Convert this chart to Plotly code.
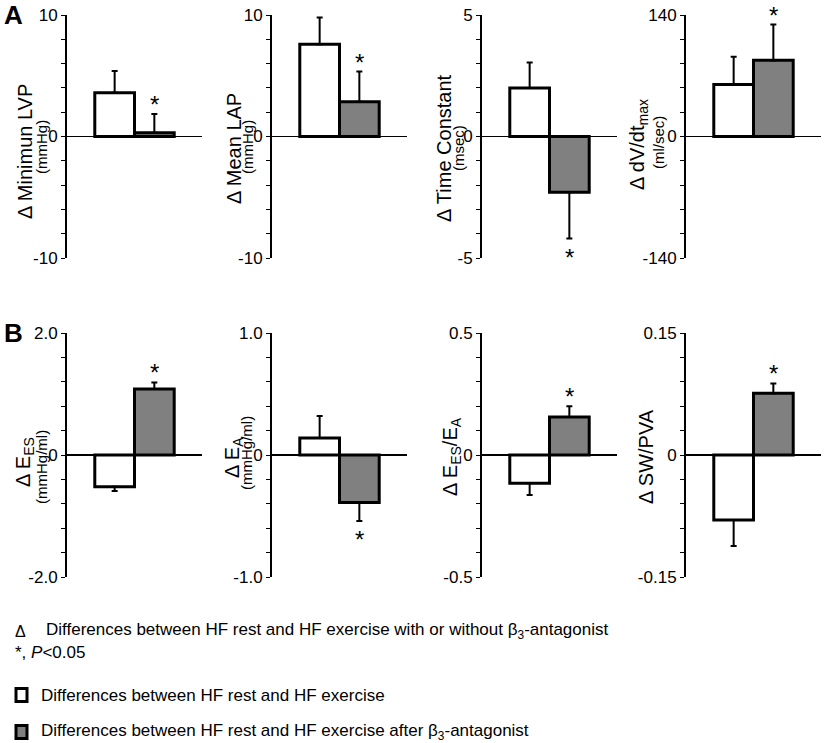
import plotly.graph_objects as go

# ---------------- data ----------------
panel_keys = ["A1", "A2", "A3", "A4", "B1", "B2", "B3", "B4"]
title_main = ["Δ Minimun LVP", "Δ Mean LAP", "Δ Time Constant", "Δ dV/dt<sub>max</sub>",
              "Δ E<sub>ES</sub>", "Δ E<sub>A</sub>", "Δ E<sub>ES</sub>/E<sub>A</sub>", "Δ SW/PVA"]
title_unit = ["(mmHg)", "(mmHg)", "(msec)", "(ml/sec)", "(mmHg/ml)", "(mmHg/ml)", "", ""]
axis_limit = [10, 10, 5, 140, 2.0, 1.0, 0.5, 0.15]
minor_step = [2, 2, 1, 28, 0.4, 0.2, 0.1, 0.03]
tick_top = ["10", "10", "5", "140", "2.0", "1.0", "0.5", "0.15"]
tick_bottom = ["-10", "-10", "-5", "-140", "-2.0", "-1.0", "-0.5", "-0.15"]

rest_values = [3.6, 7.6, 2.0, 60, -0.52, 0.14, -0.116, -0.080]
rest_errors = [1.8, 2.2, 1.05, 32, 0.07, 0.18, 0.048, 0.032]
beta_values = [0.3, 2.85, -2.29, 88, 1.08, -0.39, 0.156, 0.076]
beta_errors = [1.55, 2.5, 1.91, 41, 0.11, 0.15, 0.044, 0.012]
beta_significant = [True, True, True, True, True, True, True, True]

series_names = ["Differences between HF rest and HF exercise",
                "Differences between HF rest and HF exercise after β<sub>3</sub>-antagonist"]
series_colors = ["#ffffff", "#808080"]
bar_positions = [0, 1]

# ---------------- layout geometry (window pixels) ----------------
W, H = 825, 743
FONT = "Liberation Sans, Arial, sans-serif"
col_px = [67, 272, 482, 686]
col_w = 135
row_px = [(15, 258), (333, 577)]
title_dx1 = [-42, -38, -38, -48, -43, -39, -31, -40]
title_dx2 = [-26, -25, -24, -28, -26, -26, 0, 0]
title_cy1 = [152, 149, 148, 145, 462, 458, 457, 457]
title_cy2 = [147, 147, 148, 143, 467, 453, 0, 0]


def px(x):
    return x / W


def py(y):
    return 1 - y / H


fig = go.Figure()
layout = dict(template="none", width=W, height=H, margin=dict(l=0, r=0, t=0, b=0, pad=0),
              paper_bgcolor="white", plot_bgcolor="white",
              showlegend=False, barmode="overlay",
              font=dict(family=FONT, color="black"))
annotations = []
shapes = []

for i, key in enumerate(panel_keys):
    r, c = divmod(i, 4)
    sfx = "" if i == 0 else str(i + 1)
    xref, yref = "x" + sfx, "y" + sfx
    x0 = col_px[c]
    y0, y1 = row_px[r]
    lim = axis_limit[i]

    layout["xaxis" + sfx] = dict(domain=[px(x0), px(x0 + col_w)], range=[-1.2, 2.2],
                                 visible=False, anchor=yref, fixedrange=True, automargin=False)
    layout["yaxis" + sfx] = dict(domain=[py(y1), py(y0)], range=[-lim, lim], anchor=xref,
                                 automargin=False, ticklabeloverflow="allow",
                                 showline=True, linecolor="black", linewidth=2,
                                 showgrid=False, zeroline=True, zerolinecolor="black",
                                 zerolinewidth=1.5, tickmode="array", tickvals=[-lim, 0, lim],
                                 ticktext=[tick_bottom[i], "0", tick_top[i]],
                                 ticks="outside", ticklen=4, tickwidth=1,
                                 tickcolor="black", tickfont=dict(size=17, family=FONT, color="black"),
                                 minor=dict(tickmode="linear", tick0=0, dtick=minor_step[i],
                                            ticks="outside", ticklen=4, tickwidth=1,
                                            tickcolor="black", showgrid=False),
                                 fixedrange=True)

    for s, (vals, errs) in enumerate([(rest_values, rest_errors), (beta_values, beta_errors)]):
        v, e = vals[i], errs[i]
        plus = e if v >= 0 else 0
        minus = 0 if v >= 0 else e
        fig.add_trace(go.Bar(x=[bar_positions[s]], y=[v], width=1, xaxis=xref, yaxis=yref,
                             name=series_names[s],
                             marker=dict(color=series_colors[s], line=dict(color="black", width=3)),
                             error_y=dict(type="data", symmetric=False, array=[plus], arrayminus=[minus],
                                          color="black", thickness=2, width=3),
                             showlegend=False))
    if beta_significant[i]:
        v, e = beta_values[i], beta_errors[i]
        up = v >= 0
        end = v + e if up else v - e
        annotations.append(dict(xref=xref, yref=yref, x=bar_positions[1], y=end, text="*",
                                showarrow=False, xanchor="center",
                                yanchor="bottom" if up else "top",
                                yshift=-6 if up else -3,
                                font=dict(size=24, family=FONT, color="black")))

    annotations.append(dict(xref="paper", yref="paper", x=px(x0 + title_dx1[i]), y=py(title_cy1[i]),
                            text=title_main[i], textangle=-90, showarrow=False,
                            xanchor="center", yanchor="middle",
                            font=dict(size=20, family=FONT, color="black")))
    if title_unit[i]:
        annotations.append(dict(xref="paper", yref="paper", x=px(x0 + title_dx2[i]), y=py(title_cy2[i]),
                                text=title_unit[i], textangle=-90, showarrow=False,
                                xanchor="center", yanchor="middle",
                                font=dict(size=15, family=FONT, color="black")))

# panel letters
annotations.append(dict(xref="paper", yref="paper", x=px(2), y=py(15), text="<b>A</b>",
                        showarrow=False, xanchor="left", yanchor="middle",
                        font=dict(size=26, family=FONT, color="black")))
annotations.append(dict(xref="paper", yref="paper", x=px(2), y=py(333), text="<b>B</b>",
                        showarrow=False, xanchor="left", yanchor="middle",
                        font=dict(size=26, family=FONT, color="black")))

# notes and legend
annotations.append(dict(xref="paper", yref="paper", x=px(13), y=py(631), text="Δ",
                        showarrow=False, xanchor="left", yanchor="middle",
                        font=dict(size=16, family=FONT, color="black")))
annotations.append(dict(xref="paper", yref="paper", x=px(44), y=py(631),
                        text="Differences between HF rest and HF exercise with or without β<sub>3</sub>-antagonist",
                        showarrow=False, xanchor="left", yanchor="middle",
                        font=dict(size=17, family=FONT, color="black")))
annotations.append(dict(xref="paper", yref="paper", x=px(13), y=py(652),
                        text="*, <i>P</i>&lt;0.05", showarrow=False, xanchor="left", yanchor="middle",
                        font=dict(size=17, family=FONT, color="black")))

legend_y = [695, 732]
for s in range(2):
    cy = legend_y[s]
    shapes.append(dict(type="rect", xref="paper", yref="paper",
                       x0=px(16), x1=px(27), y0=py(cy + 6.5), y1=py(cy - 6.5),
                       fillcolor=series_colors[s], line=dict(color="black", width=3)))
    annotations.append(dict(xref="paper", yref="paper", x=px(39), y=py(cy),
                            text=series_names[s], showarrow=False, xanchor="left", yanchor="middle",
                            font=dict(size=17, family=FONT, color="black")))

layout["annotations"] = annotations
layout["shapes"] = shapes
fig.update_layout(**layout)
fig.write_html("out.html", config={"displayModeBar": False, "staticPlot": True},
               post_script="document.body.style.margin='0';document.body.style.overflow='hidden';")
